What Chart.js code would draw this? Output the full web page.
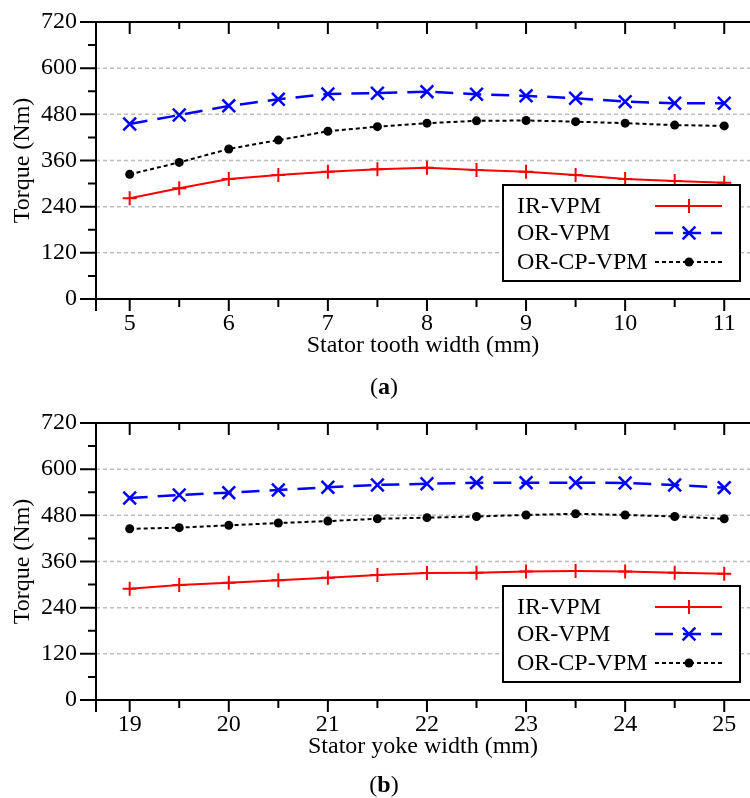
<!DOCTYPE html>
<html>
<head>
<meta charset="utf-8">
<title>Torque vs stator dimensions</title>
<script src="https://cdn.jsdelivr.net/npm/chart.js@4"></script>
<style>
  html, body { margin: 0; padding: 0; background: #fff; overflow: hidden; }
  .panel { position: absolute; left: 0; width: 750px; height: 400px; }
  .caption {
    position: absolute; left: 9px; width: 750px; text-align: center;
    font: 24px/1 "Liberation Serif", "Times New Roman", serif; color: #000;
  }
</style>
</head>
<body>
<div class="panel" style="top:0"><canvas id="chartA" width="750" height="400"></canvas></div>
<div class="caption" style="top:374px">(<b>a</b>)</div>
<div class="panel" style="top:401px"><canvas id="chartB" width="750" height="400"></canvas></div>
<div class="caption" style="top:772px">(<b>b</b>)</div>

<script>
// (a) torque against stator tooth width
const toothWidth = [5, 5.5, 6, 6.5, 7, 7.5, 8, 8.5, 9, 9.5, 10, 10.5, 11];
const toothIR = [262, 288, 312, 322, 331, 337, 341, 335, 331, 322, 312, 307, 302];
const toothOR = [455, 478, 502, 519, 533, 535, 539, 532, 528, 522, 513, 509, 509];
const toothCP = [324, 355, 390, 413, 436, 448, 457, 463, 464, 461, 457, 452, 450];
const toothMinor = [5.5, 6.5, 7.5, 8.5, 9.5, 10.5];

// (b) torque against stator yoke width
const yokeWidth = [19, 19.5, 20, 20.5, 21, 21.5, 22, 22.5, 23, 23.5, 24, 24.5, 25];
const yokeIR = [289, 299, 305, 311, 318, 325, 330, 331, 334, 335, 334, 331, 328];
const yokeOR = [525, 533, 539, 546, 553, 559, 562, 565, 565, 565, 564, 559, 552];
const yokeCP = [445, 448, 454, 460, 465, 471, 474, 477, 481, 484, 481, 477, 471];
const yokeMinor = [19.5, 20.5, 21.5, 22.5, 23.5, 24.5];

const torqueTicks = [0, 120, 240, 360, 480, 600, 720];
const torqueMinor = [60, 180, 300, 420, 540, 660];

const seriesNames = ['IR-VPM', 'OR-VPM', 'OR-CP-VPM'];

Chart.defaults.font.family = '"Liberation Serif", "Times New Roman", serif';
Chart.defaults.font.size = 24;
Chart.defaults.color = '#000';

function stroke(ctx, x1, y1, x2, y2) {
  ctx.moveTo(x1, y1);
  ctx.lineTo(x2, y2);
}

// dashed grid behind the curves, axis frame and tick marks on top of them
const framePlugin = {
  id: 'frame',
  beforeDatasetsDraw(chart) {
    const { ctx, chartArea: a, scales: { y } } = chart;
    ctx.save();
    ctx.strokeStyle = '#bdbdbd';
    ctx.lineWidth = 1.5;
    ctx.setLineDash([4, 3]);
    ctx.beginPath();
    torqueTicks.slice(1, -1).forEach(v => {
      const py = y.getPixelForValue(v);
      stroke(ctx, a.left, py, a.right, py);
    });
    ctx.stroke();
    ctx.restore();
  },
  afterDatasetsDraw(chart, args, opts) {
    const { ctx, chartArea: a, scales: { x, y } } = chart;
    ctx.save();
    ctx.strokeStyle = '#000';
    ctx.lineWidth = 2;
    ctx.setLineDash([]);
    ctx.beginPath();
    stroke(ctx, a.left - 16, a.top, a.right, a.top);
    stroke(ctx, a.left - 16, a.bottom, a.right, a.bottom);
    stroke(ctx, a.left, a.top, a.left, a.bottom + 12);
    y.ticks.forEach(t => {
      const py = y.getPixelForValue(t.value);
      stroke(ctx, a.left - 16, py, a.left, py);
    });
    torqueMinor.forEach(v => {
      const py = y.getPixelForValue(v);
      stroke(ctx, a.left - 8, py, a.left, py);
    });
    x.ticks.forEach(t => {
      const px = x.getPixelForValue(t.value);
      stroke(ctx, px, a.bottom, px, a.bottom + 12);
      stroke(ctx, px, a.top, px, a.top + 12);
    });
    opts.minorX.forEach(v => {
      const px = x.getPixelForValue(v);
      stroke(ctx, px, a.bottom, px, a.bottom + 8);
      stroke(ctx, px, a.top, px, a.top + 7);
    });
    ctx.stroke();
    ctx.restore();
  },
  afterDraw(chart) {
    // boxed legend in the lower right corner
    const { ctx, chartArea: a } = chart;
    const left = a.right - 247, right = a.right - 10;
    const top = a.bottom - 114, bottom = a.bottom - 18;
    const rows = [21, 48, 77];
    ctx.save();
    ctx.fillStyle = '#fff';
    ctx.fillRect(left, top, right - left, bottom - top);
    ctx.strokeStyle = '#000';
    ctx.lineWidth = 2;
    ctx.strokeRect(left, top, right - left, bottom - top);
    ctx.font = '24px "Liberation Serif", "Times New Roman", serif';
    ctx.textBaseline = 'middle';
    chart.data.datasets.forEach((ds, i) => {
      const ry = top + rows[i];
      ctx.fillStyle = '#000';
      ctx.fillText(ds.label, left + 14, ry + 1);
      ctx.strokeStyle = ds.borderColor;
      ctx.lineWidth = ds.borderWidth;
      ctx.setLineDash(ds.borderDash || []);
      ctx.beginPath();
      stroke(ctx, left + 152, ry, left + 219, ry);
      ctx.stroke();
      ctx.setLineDash([]);
      ctx.fillStyle = ds.pointBackgroundColor;
      ctx.lineWidth = ds.pointBorderWidth;
      Chart.helpers.drawPoint(ctx, {
        pointStyle: ds.pointStyle, radius: ds.pointRadius,
        borderWidth: ds.pointBorderWidth, rotation: 0
      }, left + 186, ry);
    });
    ctx.restore();
  }
};

function buildSeries(xs, ir, or, cp) {
  const pts = ys => xs.map((x, i) => ({ x, y: ys[i] }));
  return [
    {
      label: seriesNames[0], data: pts(ir),
      borderColor: '#ff0000', borderWidth: 2,
      pointStyle: 'cross', pointRadius: 7, pointBorderWidth: 2,
      pointBorderColor: '#ff0000', pointBackgroundColor: '#ff0000'
    },
    {
      label: seriesNames[1], data: pts(or),
      borderColor: '#0000ff', borderWidth: 2.5, borderDash: [18, 10],
      pointStyle: 'crossRot', pointRadius: 9, pointBorderWidth: 2.5,
      pointBorderColor: '#0000ff', pointBackgroundColor: '#0000ff'
    },
    {
      label: seriesNames[2], data: pts(cp),
      borderColor: '#000000', borderWidth: 2, borderDash: [4, 3],
      pointStyle: 'circle', pointRadius: 4.5, pointBorderWidth: 0,
      pointBorderColor: '#000000', pointBackgroundColor: '#000000'
    }
  ];
}

function makeChart(id, xs, ir, or, cp, xMin, xMax, xTitle, minorX) {
  return new Chart(document.getElementById(id), {
    type: 'line',
    data: { datasets: buildSeries(xs, ir, or, cp) },
    plugins: [framePlugin],
    options: {
      responsive: false,
      animation: false,
      layout: { autoPadding: false, padding: { top: 22, left: 0, right: 0, bottom: 0 } },
      elements: { line: { tension: 0, fill: false } },
      plugins: {
        legend: { display: false },
        tooltip: { enabled: false },
        frame: { minorX: minorX }
      },
      scales: {
        x: {
          type: 'linear',
          min: xMin,
          max: xMax,
          grid: { display: false, drawTicks: false },
          border: { display: false },
          ticks: { stepSize: 1, includeBounds: false, padding: 10, maxRotation: 0 },
          title: { display: true, text: xTitle, padding: { top: 0, bottom: 40 } },
          afterFit(scale) {
            scale.height = 101;
            scale.paddingLeft = 0;
            scale.paddingRight = 0;
          }
        },
        y: {
          min: 0,
          max: 720,
          grid: { display: false, drawTicks: false },
          border: { display: false },
          ticks: { stepSize: 120, padding: 19 },
          title: { display: true, text: 'Torque (Nm)', padding: { top: 8, bottom: 0 } },
          afterFit(scale) {
            scale.width = 96;
            scale.paddingTop = 0;
            scale.paddingBottom = 0;
          }
        }
      }
    }
  });
}

makeChart('chartA', toothWidth, toothIR, toothOR, toothCP, 4.66, 11.26, 'Stator tooth width (mm)', toothMinor);
makeChart('chartB', yokeWidth, yokeIR, yokeOR, yokeCP, 18.66, 25.26, 'Stator yoke width (mm)', yokeMinor);
</script>
</body>
</html>
